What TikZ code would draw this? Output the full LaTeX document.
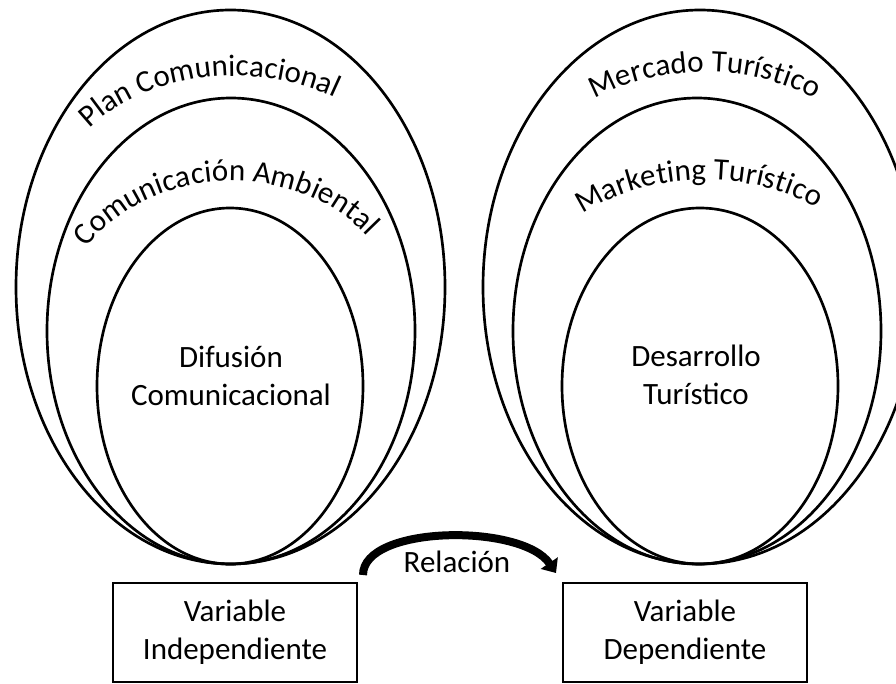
\documentclass[tikz,border=0pt]{standalone}
\usepackage{fontspec}
\setmainfont{Carlito}
\usetikzlibrary{arrows.meta,decorations.text}
\newcommand{\txtsize}{\fontsize{23.25}{28.5}\selectfont}
% curved label on an arc of an ellipse: centre, start angle, end angle, radii, text
\newcommand{\arclabel}[6]{%
    \path[decorate, decoration={text along path, text align=center, text={|\txtsize|#6}}]
        (#1) ++(#2:#4 and #5) arc[start angle=#2, end angle=#3, x radius=#4, y radius=#5];%
}

\begin{document}
\begin{tikzpicture}[x=0.75pt, y=0.75pt, line width=2pt,
    caja/.style={draw, line width=2pt, minimum width=183pt, minimum height=74.25pt,
                 inner sep=0pt, align=center, font=\txtsize},
    rotulo/.style={align=center, font=\txtsize}]
        \useasboundingbox (0,0) rectangle (896,683);
        \clip (0,0) rectangle (896,683);

        % --- Variable independiente ---
        \draw (230.5,396) ellipse [x radius=214.5, y radius=277];
        \draw (231,352) ellipse [x radius=184, y radius=233];
        \draw (230,297) ellipse [x radius=133, y radius=178];
        \arclabel{235,479}{161}{41}{180}{128}{Plan Comunicacional}
        \arclabel{232,362}{168}{18}{170}{140}{Comunicación Ambiental}
        \node[rotulo] (difusion) at (231,307) {Difusión\\Comunicacional};

        % --- Variable dependiente ---
        \draw (700,396) ellipse [x radius=217, y radius=277];
        \draw (697,352) ellipse [x radius=184, y radius=233];
        \draw (700,297) ellipse [x radius=138, y radius=178];
        \arclabel{705,483}{150}{30}{180}{128}{Mercado Turístico}
        \arclabel{705,375}{152}{33}{180}{128}{Marketing Turístico}
        \node[rotulo] (desarrollo) at (696,308) {Desarrollo\\Turístico};

        % Boxes
        \node[caja] (indep) at (235,50.5) {Variable\\Independiente};
        \node[caja] (dep) at (685,50.5) {Variable\\Dependiente};

        % Relation arrow between the two boxes
        \coordinate (relIni) at (363,108);
        \coordinate (relFin) at (556,110);
        \draw[line width=6pt, -{Triangle[length=9pt, width=15pt]}]
            (relIni) .. controls (363,158) and (522,160) .. (relFin);
        \node[rotulo] (relacion) at (457,121) {Relación};
    \end{tikzpicture}
\end{document}
